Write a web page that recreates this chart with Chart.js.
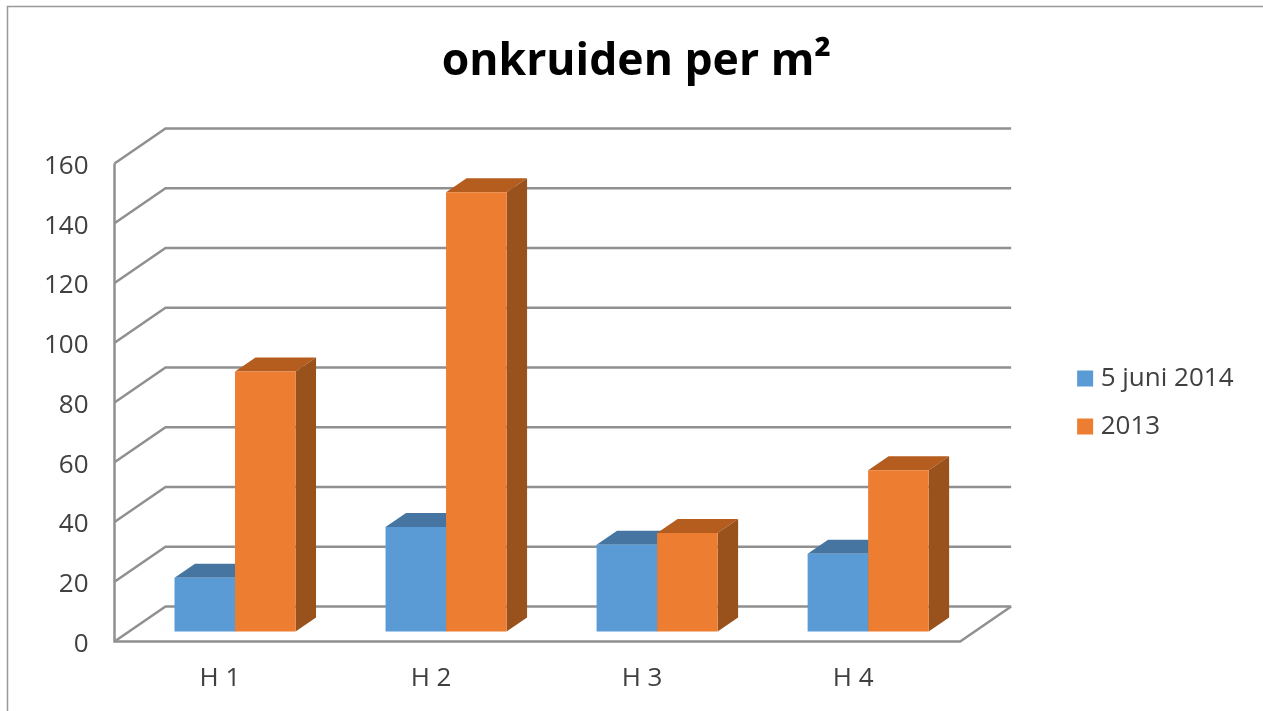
<!DOCTYPE html>
<html>
<head>
<meta charset="utf-8">
<title>onkruiden per m²</title>
<script src="https://cdn.jsdelivr.net/npm/chart.js@4"></script>
<style>
  html, body { margin: 0; padding: 0; background: #fff; overflow: hidden; }
  canvas { display: block; }
</style>
</head>
<body>
<canvas id="chart" width="1263" height="711"></canvas>
<script>
'use strict';

const categories = ['H 1', 'H 2', 'H 3', 'H 4'];
const seriesNames = ['5 juni 2014', '2013'];
const values2014 = [18, 35, 29, 26];
const values2013 = [87, 147, 33, 54];
const yTicks = [0, 20, 40, 60, 80, 100, 120, 140, 160];

const fontName = '"Open Sans", sans-serif';
const textColor = '#404040';
const gridColor = '#909090';

// walls of the 3d box, and how far the bars stand in front of the back wall
const wallDx = 51;
const wallDy = -35;
const barShiftX = 15;
const barShiftY = -10;
const barDepthX = 20.5;
const barDepthY = -14;

const faceColors = [
  { top: '#4575a0', side: '#3f6b93' },
  { top: '#b45d1f', side: '#99521c' }
];

function line(ctx, points) {
  ctx.beginPath();
  ctx.moveTo(points[0][0], points[0][1]);
  for (let i = 1; i < points.length; i++) {
    ctx.lineTo(points[i][0], points[i][1]);
  }
  ctx.stroke();
}

function fillShape(ctx, points, color) {
  ctx.fillStyle = color;
  ctx.beginPath();
  ctx.moveTo(points[0][0], points[0][1]);
  for (let i = 1; i < points.length; i++) {
    ctx.lineTo(points[i][0], points[i][1]);
  }
  ctx.closePath();
  ctx.fill();
}

// outer frame of the picture
const framePlugin = {
  id: 'frame',
  beforeDraw(chart) {
    const ctx = chart.ctx;
    ctx.save();
    ctx.fillStyle = '#fff';
    ctx.fillRect(0, 0, chart.width, chart.height);
    ctx.strokeStyle = '#999999';
    ctx.lineWidth = 1.5;
    line(ctx, [[7.5, chart.height], [7.5, 6.5], [chart.width, 6.5]]);
    ctx.restore();
  }
};

// walls, floor and top/side faces of the bars. Fronts are the normal bars.
const box3dPlugin = {
  id: 'box3d',
  beforeDatasetsDraw(chart) {
    const ctx = chart.ctx;
    const area = chart.chartArea;
    const y = chart.scales.y;
    const bottom = y.getPixelForValue(0);
    const backRight = area.right + wallDx + 1.5;

    ctx.save();
    ctx.strokeStyle = gridColor;
    ctx.lineWidth = 2.5;
    yTicks.forEach(function (tick) {
      const py = y.getPixelForValue(tick);
      line(ctx, [[area.left, py], [area.left + wallDx, py + wallDy], [backRight, py + wallDy]]);
    });
    line(ctx, [[area.left, y.getPixelForValue(160)], [area.left, bottom], [area.right + 1.5, bottom], [backRight, bottom + wallDy]]);
    ctx.restore();

    ctx.save();
    ctx.translate(barShiftX, barShiftY);
    chart.data.datasets.forEach(function (ds, d) {
      chart.getDatasetMeta(d).data.forEach(function (bar) {
        const left = bar.x - bar.width / 2;
        const right = bar.x + bar.width / 2;
        fillShape(ctx, [
          [left, bar.y], [right, bar.y],
          [right + barDepthX, bar.y + barDepthY], [left + barDepthX, bar.y + barDepthY]
        ], faceColors[d].top);
        fillShape(ctx, [
          [right, bar.y], [right + barDepthX, bar.y + barDepthY],
          [right + barDepthX, bar.base + barDepthY], [right, bar.base]
        ], faceColors[d].side);
      });
    });
  },
  afterDatasetsDraw(chart) {
    chart.ctx.restore();
  }
};

new Chart(document.getElementById('chart').getContext('2d'), {
  type: 'bar',
  data: {
    labels: categories,
    datasets: [
      { label: seriesNames[0], data: values2014, backgroundColor: '#5b9bd5', clip: false },
      { label: seriesNames[1], data: values2013, backgroundColor: '#ed7d31', clip: false }
    ]
  },
  options: {
    responsive: false,
    animation: false,
    categoryPercentage: 0.5735,
    barPercentage: 1,
    layout: {
      autoPadding: false,
      padding: { left: 29.5, right: 19.5, top: 0, bottom: 0 }
    },
    plugins: {
      tooltip: { enabled: false },
      title: {
        display: true,
        text: 'onkruiden per m²',
        color: '#000',
        font: { family: fontName, size: 44.5, weight: 'bold' },
        padding: { top: 36, bottom: 74.1 }
      },
      legend: {
        position: 'right',
        fullSize: false,
        labels: {
          color: textColor,
          font: { family: fontName, size: 26 },
          padding: 22,
          boxWidth: 5,
          boxHeight: 5,
          // small box + thick border of the same colour, keeps the gap to the text narrow
          generateLabels(chart) {
            return Chart.defaults.plugins.legend.labels.generateLabels(chart).map(function (item) {
              item.lineWidth = 11;
              item.strokeStyle = item.fillStyle;
              return item;
            });
          }
        }
      }
    },
    scales: {
      x: {
        grid: { display: false },
        border: { display: false },
        ticks: {
          color: textColor,
          padding: 13,
          maxRotation: 0,
          font: { family: fontName, size: 26 }
        },
        afterFit(scale) { scale.height = 69.5; }
      },
      y: {
        min: 0,
        max: 160,
        grid: { display: false },
        border: { display: false },
        ticks: {
          color: textColor,
          padding: 18,
          stepSize: 20,
          labelOffset: 3,
          font: { family: fontName, size: 26 }
        },
        afterFit(scale) { scale.width = 85; }
      },
      // empty axis, only holds the gap between the plot and the legend
      gap: {
        position: 'right',
        grid: { display: false },
        border: { display: false },
        ticks: { display: false },
        afterFit(scale) { scale.width = 102; }
      }
    }
  },
  plugins: [framePlugin, box3dPlugin]
});
</script>
</body>
</html>
